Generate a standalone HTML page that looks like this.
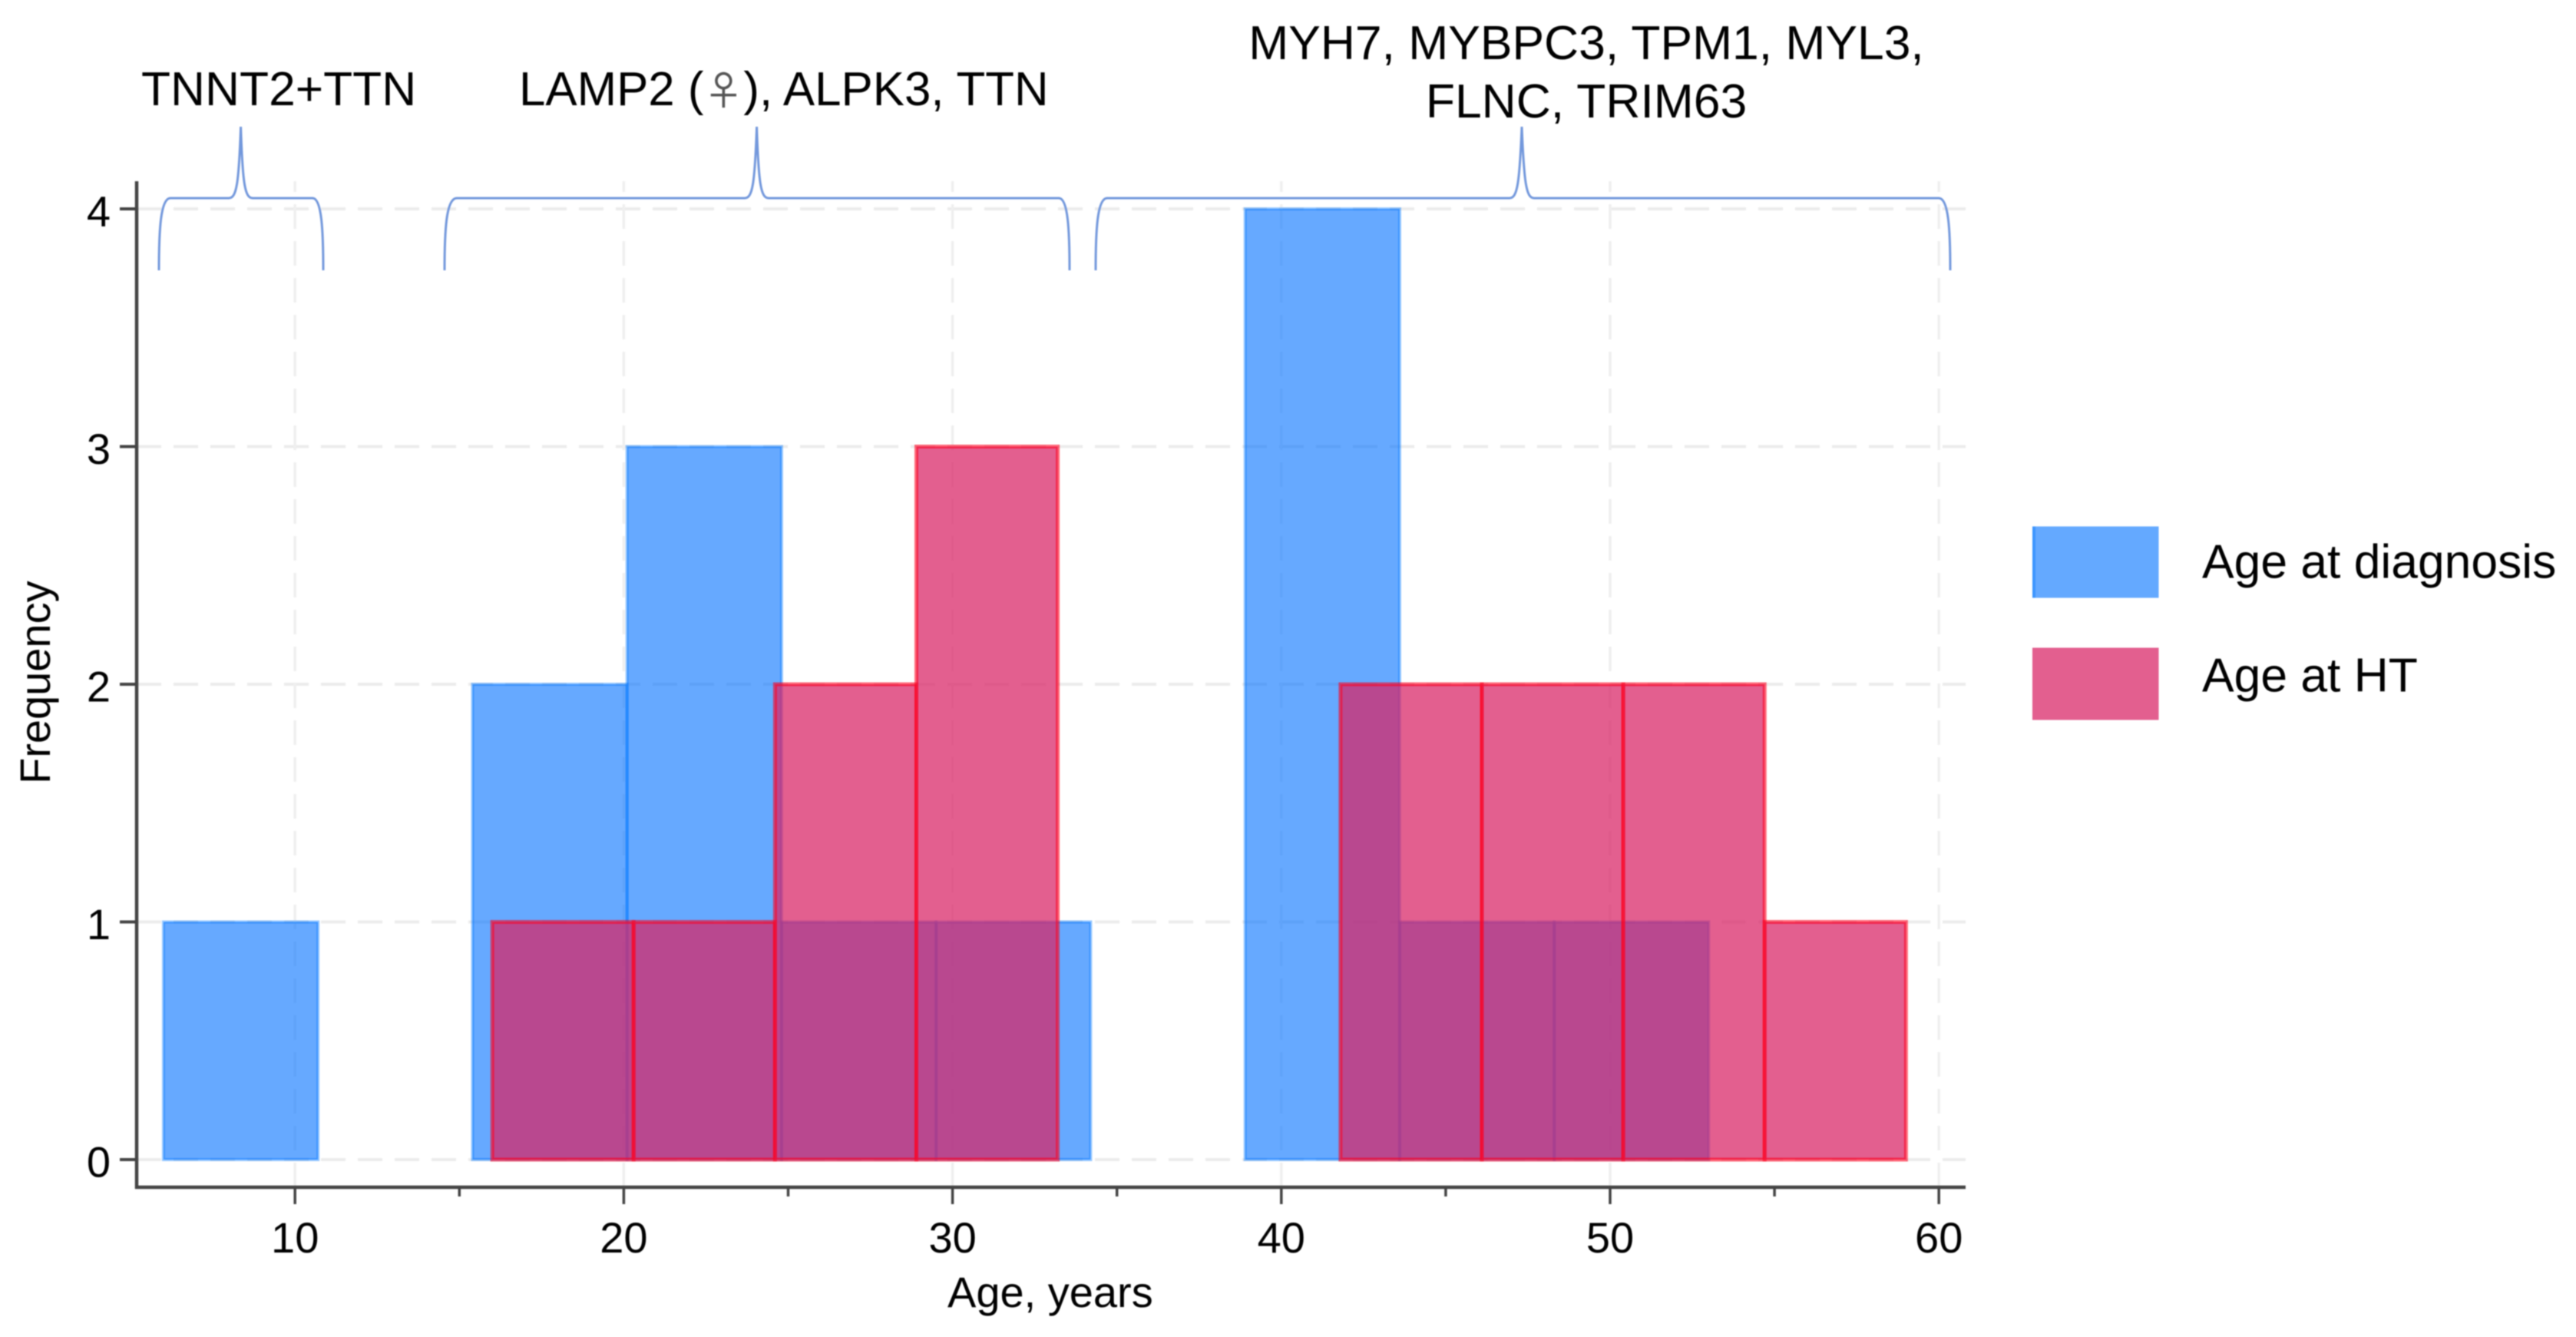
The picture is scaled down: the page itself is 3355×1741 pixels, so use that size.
<!DOCTYPE html>
<html lang="en">
<head>
<meta charset="utf-8">
<title>Age at diagnosis and heart transplant histogram</title>
<style>
html,body{margin:0;padding:0;background:#fff;width:3355px;height:1741px;overflow:hidden}
svg{display:block;filter:blur(0.7px)}
text{font-family:"Liberation Sans","Noto Sans CJK JP",sans-serif;fill:#000}
</style>
</head>
<body>
<svg id="chart" xmlns="http://www.w3.org/2000/svg" width="3355" height="1741" viewBox="0 0 3355 1741">
  <rect x="0" y="0" width="3355" height="1741" fill="#fff"/>
  <g id="grid"></g>
  <g id="bars"></g>
  <g id="axes"></g>
  <g>
    <path fill="none" stroke="#7398dc" stroke-width="3" d="M207 352C207 300 209 258 222 258L298 258C308 258 311 240 313.6 165C316 240 319 258 329 258L407 258C419 258 421 300 421 352"/>
    <path fill="none" stroke="#7398dc" stroke-width="3" d="M579 352C579 300 581 258 595 258L970 258C980 258 983 240 985.6 165C988 240 991 258 1001 258L1379 258C1391 258 1393 300 1393 352"/>
    <path fill="none" stroke="#7398dc" stroke-width="3" d="M1427 352C1427 300 1429 258 1442 258L1966 258C1976 258 1979 240 1982 165C1985 240 1988 258 1998 258L2525 258C2538 258 2540 300 2540 352"/>
    <text x="184" y="137" font-size="62.3">TNNT2+TTN</text>
    <text x="676" y="137" font-size="61.8">LAMP2 (<tspan font-family="'Noto Sans CJK JP',sans-serif" font-size="52" style="fill:#555">♀</tspan>), ALPK3, TTN</text>
    <text x="2066" y="77" font-size="62.4" text-anchor="middle">MYH7, MYBPC3, TPM1, MYL3,</text>
    <text x="2066" y="153" font-size="62.4" text-anchor="middle">FLNC, TRIM63</text>
  </g>
  <g>
    <rect x="2647" y="685.5" width="164.5" height="93" fill="#64a9ff"/>
    <rect x="2647" y="685.5" width="4" height="93" fill="#3d96ff"/>
    <text x="2868" y="752.5" font-size="62.4">Age at diagnosis</text>
    <rect x="2647" y="843.5" width="164.5" height="94" fill="#e35f8f"/>
    <text x="2868" y="900.5" font-size="62.4">Age at HT</text>
  </g>
  <text x="1234" y="1702" font-size="56">Age, years</text>
  <text transform="translate(65 1021) rotate(-90)" font-size="56">Frequency</text>
</svg>
<script>
// Histogram data (ages in years, frequencies in counts)
const diagnosisBinStart = 6;
const diagnosisBinWidth = 4.7;
const diagnosisCounts = [1, 0, 2, 3, 1, 1, 0, 4, 1, 1];
const htBinStart = 16;
const htBinWidth = 4.3;
const htCounts = [1, 1, 2, 3, 0, 0, 2, 2, 2, 1];
const xMajorTicks = [10, 20, 30, 40, 50, 60];
const xMinorTicks = [15, 25, 35, 45, 55];
const yTicks = [0, 1, 2, 3, 4];

const NS = 'http://www.w3.org/2000/svg';
const PLOT = {left: 178, right: 2560, top: 236, bottom: 1546};
function xScale(age) { return 384.2 + (age - 10) * 42.82; }
function yScale(freq) { return 1510 - freq * 309.5; }
function make(tag, attrs, parent) {
  const el = document.createElementNS(NS, tag);
  for (const k in attrs) el.setAttribute(k, attrs[k]);
  parent.appendChild(el);
  return el;
}

const grid = document.getElementById('grid');
const bars = document.getElementById('bars');
const axes = document.getElementById('axes');

yTicks.forEach(function (t) {
  const line = make('line', {x1: PLOT.left, x2: PLOT.right, y1: yScale(t), y2: yScale(t), stroke: '#ececec', 'stroke-width': 4, 'stroke-dasharray': '32 16'}, grid);
  
  
});
xMajorTicks.forEach(function (t) {
  const line = make('line', {x1: xScale(t), x2: xScale(t), y1: PLOT.bottom, y2: PLOT.top, stroke: '#efefef', 'stroke-width': 3.5, 'stroke-dasharray': '32 16'}, grid);
  
  
});

function drawSeries(counts, start, width, fill, stroke, strokeWidth, name) {
  counts.forEach(function (c, i) {
    if (c === 0) return;
    const x0 = xScale(start + i * width);
    const x1 = xScale(start + (i + 1) * width);
    const rect = make('rect', {x: x0, y: yScale(c), width: x1 - x0, height: yScale(0) - yScale(c), fill: fill, stroke: stroke, 'stroke-width': strokeWidth}, bars);
    
    
  });
}
drawSeries(diagnosisCounts, diagnosisBinStart, diagnosisBinWidth, 'rgba(0,112,255,0.6)', 'rgba(0,120,255,0.4)', 4, 'bar-age-at-diagnosis');
drawSeries(htCounts, htBinStart, htBinWidth, 'rgba(216,36,101,0.73)', 'rgba(255,0,30,0.58)', 5, 'bar-age-at-ht');

const yAxis = make('line', {x1: PLOT.left, x2: PLOT.left, y1: PLOT.top, y2: PLOT.bottom + 2, stroke: '#444', 'stroke-width': 4.5}, axes);


const xAxis = make('line', {x1: PLOT.left - 2, x2: PLOT.right, y1: PLOT.bottom, y2: PLOT.bottom, stroke: '#444', 'stroke-width': 4.5}, axes);



yTicks.forEach(function (t) {
  const tick = make('line', {x1: 156, x2: PLOT.left, y1: yScale(t), y2: yScale(t), stroke: '#444', 'stroke-width': 4}, axes);
  
  
  const label = make('text', {x: 144, y: yScale(t) + 22.5, 'font-size': 56, 'text-anchor': 'end'}, axes);
  
  
  label.textContent = String(t);
});
xMajorTicks.forEach(function (t) {
  const tick = make('line', {x1: xScale(t), x2: xScale(t), y1: PLOT.bottom, y2: 1568, stroke: '#444', 'stroke-width': 3.5}, axes);
  
  
  const label = make('text', {x: xScale(t), y: 1631, 'font-size': 56, 'text-anchor': 'middle'}, axes);
  
  
  label.textContent = String(t);
});
xMinorTicks.forEach(function (t) {
  const tick = make('line', {x1: xScale(t), x2: xScale(t), y1: PLOT.bottom, y2: 1558, stroke: '#444', 'stroke-width': 3.5}, axes);
  
  
});
</script>
</body>
</html>
